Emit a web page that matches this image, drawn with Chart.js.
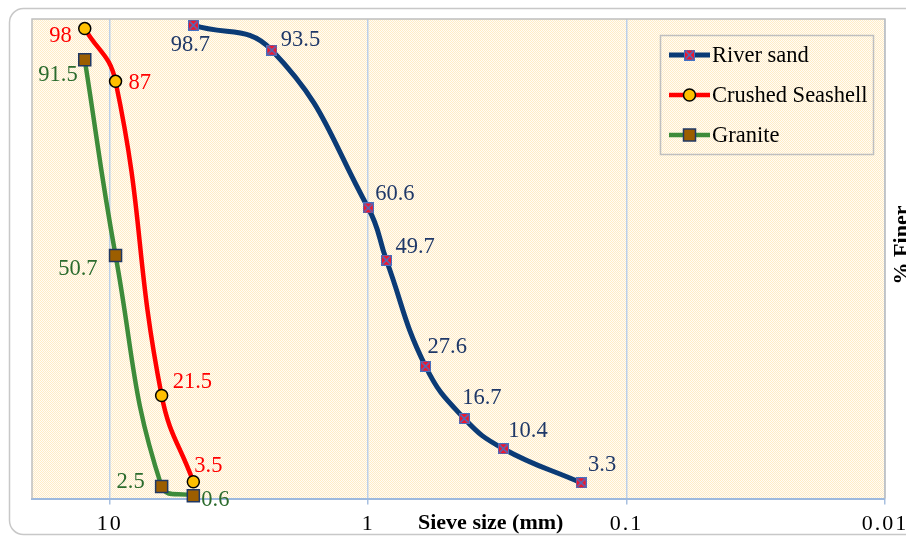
<!DOCTYPE html>
<html><head><meta charset="utf-8">
<script src="https://cdn.jsdelivr.net/npm/chart.js@4/dist/chart.umd.min.js"></script>
<style>html,body{margin:0;padding:0;background:#fff;}canvas{display:block;}</style>
</head><body>
<canvas id="c" width="906" height="536"></canvas>
<script>
// ---------- data ----------
const seriesNames = ['River sand', 'Crushed Seashell', 'Granite'];
const riverSandSize  = [4.75, 2.36, 1.0, 0.85, 0.6, 0.425, 0.3, 0.15];
const riverSandFiner = [98.7, 93.5, 60.6, 49.7, 27.6, 16.7, 10.4, 3.3];
const seashellSize   = [12.5, 9.5, 6.3, 4.75];
const seashellFiner  = [98, 87, 21.5, 3.5];
const graniteSize    = [12.5, 9.5, 6.3, 4.75];
const graniteFiner   = [91.5, 50.7, 2.5, 0.6];
const xTickValues = [0.01, 0.1, 1, 10];
const xTitle = 'Sieve size (mm)';
const yTitle = '% Finer';

// ---------- styles ----------
const lineColors  = ['#0B3B76', '#FF0000', '#3D8B3A'];
const labelColors = ['#1F3868', '#FF0000', '#2B6B2D'];
const FONT = "'Liberation Serif', 'Times New Roman', serif";
// [align, dx, dy] per point label
const labelPlacement = [
  [['center',-3,20],['left',9,-10],['left',7,-14],['left',9,-13],['left',2,-19],['left',-2,-20],['left',5,-18],['left',7,-18]],
  [['right',-13,8],['left',13,2],['left',11,-13],['left',1,-16]],
  [['right',-7,15],['right',-18,14],['right',-17,-5],['left',8,4]]
];

function makeRiverMarker() {
  const c = document.createElement('canvas');
  c.width = 11; c.height = 11;
  const g = c.getContext('2d');
  g.fillStyle = '#F5142A';
  g.fillRect(0, 0, 11, 11);
  g.strokeStyle = '#4472C4';
  g.lineWidth = 1;
  g.strokeRect(0.5, 0.5, 10, 10);
  g.lineWidth = 1.6;
  g.beginPath();
  g.moveTo(1.5, 1.5); g.lineTo(9.5, 9.5);
  g.moveTo(9.5, 1.5); g.lineTo(1.5, 9.5);
  g.stroke();
  return c;
}
const riverMarker = makeRiverMarker();

function makePattern(ctx) {
  const c = document.createElement('canvas');
  c.width = 4; c.height = 4;
  const g = c.getContext('2d');
  for (let y = 0; y < 4; y++) for (let x = 0; x < 4; x++) {
    g.fillStyle = ((x + y) % 2 === 0) ? '#FFECC6' : '#FFFCF6';
    g.fillRect(x, y, 1, 1);
  }
  return ctx.createPattern(c, 'repeat');
}

function drawMarker(ctx, i, x, y) {
  ctx.save();
  if (i === 0) {
    ctx.drawImage(riverMarker, x - riverMarker.width / 2, y - riverMarker.height / 2);
  } else if (i === 1) {
    ctx.beginPath(); ctx.arc(x, y, 6, 0, Math.PI * 2);
    ctx.fillStyle = '#FFC000'; ctx.fill();
    ctx.lineWidth = 1.5; ctx.strokeStyle = '#000'; ctx.stroke();
  } else {
    ctx.fillStyle = '#9C5E00'; ctx.fillRect(x - 6, y - 6, 12, 12);
    ctx.lineWidth = 1.5; ctx.strokeStyle = '#203864'; ctx.strokeRect(x - 6, y - 6, 12, 12);
  }
  ctx.restore();
}

const decorPlugin = {
  id: 'decor',
  beforeDraw(chart) {
    const {ctx, chartArea: a} = chart;
    ctx.save();
    ctx.strokeStyle = '#C8C8C8';
    ctx.lineWidth = 1.5;
    ctx.beginPath();
    ctx.roundRect(9.5, 8.5, 940, 526, 14);
    ctx.stroke();
    ctx.fillStyle = makePattern(ctx);
    ctx.fillRect(a.left, a.top, a.right - a.left, a.bottom - a.top);
    ctx.restore();
    ctx.letterSpacing = '2px';
  },
  beforeDatasetsDraw(chart) {
    const {ctx, chartArea: a} = chart;
    ctx.letterSpacing = '0px';
    ctx.save();
    ctx.strokeStyle = '#BFBFBF';
    ctx.lineWidth = 1.5;
    ctx.beginPath();
    ctx.moveTo(a.left, a.bottom); ctx.lineTo(a.left, a.top);
    ctx.lineTo(a.right, a.top); ctx.lineTo(a.right, a.bottom);
    ctx.stroke();
    ctx.restore();
  },
  afterDatasetsDraw(chart) {
    const {ctx} = chart;
    ctx.save();
    ctx.font = '22.5px ' + FONT;
    ctx.textBaseline = 'middle';
    chart.data.datasets.forEach((ds, i) => {
      const meta = chart.getDatasetMeta(i);
      meta.data.forEach((pt, j) => {
        const [align, dx, dy] = labelPlacement[i][j];
        ctx.fillStyle = labelColors[i];
        ctx.textAlign = align;
        ctx.fillText(String(ds.data[j].y), pt.x + dx, pt.y + dy);
      });
    });
    ctx.restore();
  },
  afterDraw(chart) {
    const {ctx} = chart;
    const xs = chart.scales.x;
    ctx.save();
    ctx.strokeStyle = '#BFBFBF';
    ctx.lineWidth = 1.5;
    ctx.strokeRect(660.5, 35.5, 213, 119);
    chart.data.datasets.forEach((ds, i) => {
      const cy = 55 + i * 40;
      ctx.beginPath();
      ctx.moveTo(669, cy); ctx.lineTo(710, cy);
      ctx.strokeStyle = ds.borderColor;
      ctx.lineWidth = ds.borderWidth;
      ctx.stroke();
      drawMarker(ctx, i, 689.5, cy);
      ctx.fillStyle = '#000';
      ctx.font = '22.5px ' + FONT;
      ctx.textAlign = 'left';
      ctx.textBaseline = 'middle';
      ctx.fillText(ds.label, 712, cy + 1);
    });
    ctx.font = 'bold 22px ' + FONT;
    ctx.fillStyle = '#000';
    ctx.textAlign = 'left';
    ctx.textBaseline = 'middle';
    ctx.fillText(xTitle, 418, xs.top + 6 + 6 + 13.2);
    ctx.translate(908, 245);
    ctx.rotate(-Math.PI / 2);
    ctx.textAlign = 'center';
    ctx.textBaseline = 'alphabetic';
    ctx.fillText(yTitle, 0, 0);
    ctx.restore();
  }
};

const toPoints = (xs, ys) => xs.map((x, i) => ({x, y: ys[i]}));

new Chart(document.getElementById('c'), {
  type: 'line',
  data: {
    datasets: [
      {label: seriesNames[0], data: toPoints(riverSandSize, riverSandFiner),
       borderColor: lineColors[0], borderWidth: 5, pointStyle: riverMarker, pointRadius: 6,
       tension: 0.45, fill: false, clip: false},
      {label: seriesNames[1], data: toPoints(seashellSize, seashellFiner),
       borderColor: lineColors[1], borderWidth: 4.5, pointStyle: 'circle', pointRadius: 6,
       pointBackgroundColor: '#FFC000', pointBorderColor: '#000', pointBorderWidth: 1.5,
       tension: 0.45, fill: false, clip: false},
      {label: seriesNames[2], data: toPoints(graniteSize, graniteFiner),
       borderColor: lineColors[2], borderWidth: 4.5, pointStyle: 'rect', pointRadius: 8.5,
       pointBackgroundColor: '#9C5E00', pointBorderColor: '#203864', pointBorderWidth: 1.5,
       tension: 0.45, fill: false, clip: false}
    ]
  },
  options: {
    responsive: false,
    animation: false,
    devicePixelRatio: 1,
    layout: {padding: {left: 32, top: 19, right: 21, bottom: -7}},
    plugins: {legend: {display: false}, tooltip: {enabled: false}},
    scales: {
      x: {
        type: 'logarithmic', min: 0.01, max: 20, reverse: true,
        afterBuildTicks: (scale) => { scale.ticks = xTickValues.map(v => ({value: v})); },
        ticks: {
          callback: (v) => String(v),
          font: {family: FONT, size: 22}, color: '#000', padding: 6, maxRotation: 0, autoSkip: false
        },
        grid: {color: '#BCD0EA', lineWidth: 1.5, tickLength: 6, tickColor: '#A8C0E0', drawOnChartArea: true},
        border: {color: '#9DB9DE', width: 2}
      },
      y: {type: 'linear', min: 0, max: 100, display: false}
    }
  },
  plugins: [decorPlugin]
});
</script>
</body></html>
